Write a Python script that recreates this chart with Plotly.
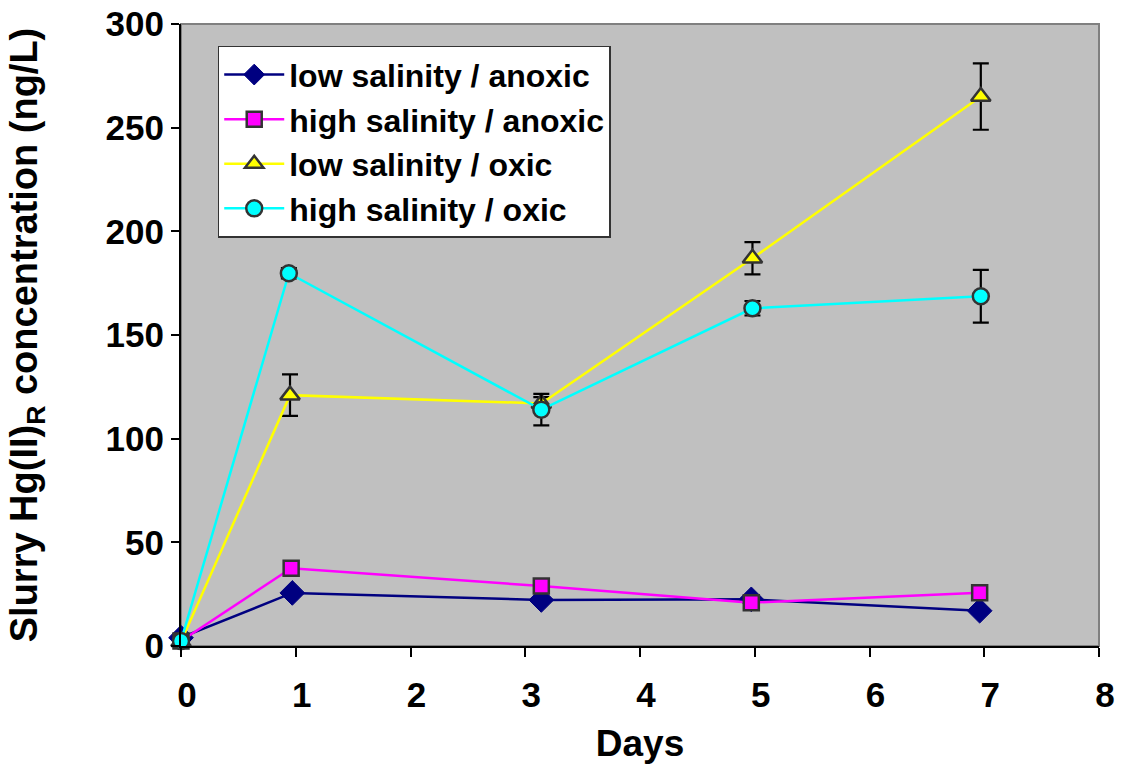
import plotly.graph_objects as go

# ---- data ----
days_la = [0, 0.97, 3.14, 4.97, 6.96]
la_vals = [4, 25.6, 22.2, 22.5, 17.0]          # low salinity / anoxic

days_ha = [0, 0.96, 3.14, 4.97, 6.96]
ha_vals = [2.4, 37.5, 28.9, 20.9, 25.7]         # high salinity / anoxic

days_lo = [0, 0.95, 3.14, 4.98, 6.97]
lo_vals = [2, 121, 117, 187, 265]               # low salinity / oxic
lo_err = [0, 10, 3, 7.8, 16]

days_ho = [0, 0.94, 3.14, 4.98, 6.97]
ho_vals = [2.4, 179.8, 114, 162.9, 168.7]       # high salinity / oxic
ho_err = [0, 2.5, 7.6, 3.5, 12.7]

x_ticks = [0, 1, 2, 3, 4, 5, 6, 7, 8]
y_ticks = [0, 50, 100, 150, 200, 250, 300]

FONT = "Liberation Sans, Arial, sans-serif"
EDGE = "#333333"

fig = go.Figure()
fig.add_trace(go.Scatter(
    x=days_la, y=la_vals, name="<b>low salinity / anoxic</b>", mode="lines+markers",
    line=dict(color="#000080", width=2.5),
    marker=dict(symbol="diamond", size=19, color="#000080", line=dict(color="#000080", width=1)),
    cliponaxis=False))
fig.add_trace(go.Scatter(
    x=days_ha, y=ha_vals, name="<b>high salinity / anoxic</b>", mode="lines+markers",
    line=dict(color="#FF00FF", width=2.5),
    marker=dict(symbol="square", size=15, color="#FF00FF", line=dict(color=EDGE, width=2.5)),
    cliponaxis=False))
fig.add_trace(go.Scatter(
    x=days_lo, y=lo_vals, name="<b>low salinity / oxic</b>", mode="lines+markers",
    line=dict(color="#FFFF00", width=2.5),
    marker=dict(symbol="triangle-up", size=17, color="#FFFF00", line=dict(color=EDGE, width=2.5)),
    error_y=dict(type="data", array=lo_err, visible=True, color="black", thickness=2.2, width=8),
    cliponaxis=False))
fig.add_trace(go.Scatter(
    x=days_ho, y=ho_vals, name="<b>high salinity / oxic</b>", mode="lines+markers",
    line=dict(color="#00FFFF", width=2.5),
    marker=dict(symbol="circle", size=16, color="#00FFFF", line=dict(color=EDGE, width=2.5)),
    error_y=dict(type="data", array=ho_err, visible=True, color="black", thickness=2.2, width=8),
    cliponaxis=False))

fig.update_layout(
    width=1121, height=764,
    margin=dict(l=181, r=22, t=24, b=118),
    paper_bgcolor="white", plot_bgcolor="#C0C0C0",
    font=dict(family=FONT, size=30, color="black"),
    showlegend=True,
    legend=dict(x=0.04, y=0.965, xanchor="left", yanchor="top",
                bgcolor="white", bordercolor="#333333", borderwidth=1.5,
                font=dict(family=FONT, size=32, color="black"),
                itemwidth=60, tracegroupgap=0),
    shapes=[dict(type="rect", xref="paper", yref="paper", x0=0, y0=0, x1=1, y1=1,
                 line=dict(color="#808080", width=2), layer="below")],
)
fig.update_xaxes(
    range=[0, 8], tickvals=x_ticks, ticktext=[f"<b>{v}</b>" for v in x_ticks],
    automargin=False, ticklabeloverflow="allow",
    showgrid=False, zeroline=False, showline=True, linecolor="black", linewidth=2,
    ticks="outside", ticklen=9, tickwidth=1.5, tickcolor="black",
    tickfont=dict(family=FONT, size=35, color="black"), ticklabelshift=6,
    ticklabelstandoff=8,
    title=dict(text="<b>Days</b>", font=dict(family=FONT, size=37), standoff=21))
fig.update_yaxes(
    range=[0, 300], tickvals=y_ticks, ticktext=[f"<b>{v}</b>" for v in y_ticks],
    automargin=False, ticklabeloverflow="allow",
    showgrid=False, zeroline=False, showline=True, linecolor="black", linewidth=2,
    ticks="outside", ticklen=8, tickwidth=1.5, tickcolor="black",
    tickfont=dict(family=FONT, size=35, color="black"),
    title=dict(text="<b>Slurry Hg(II)<sub>R</sub> concentration (ng/L)</b>",
               font=dict(family=FONT, size=38), standoff=56))

fig.write_html("out.html", config={"displayModeBar": False},
               post_script="document.body.style.margin='0';document.body.style.overflow='hidden';")
